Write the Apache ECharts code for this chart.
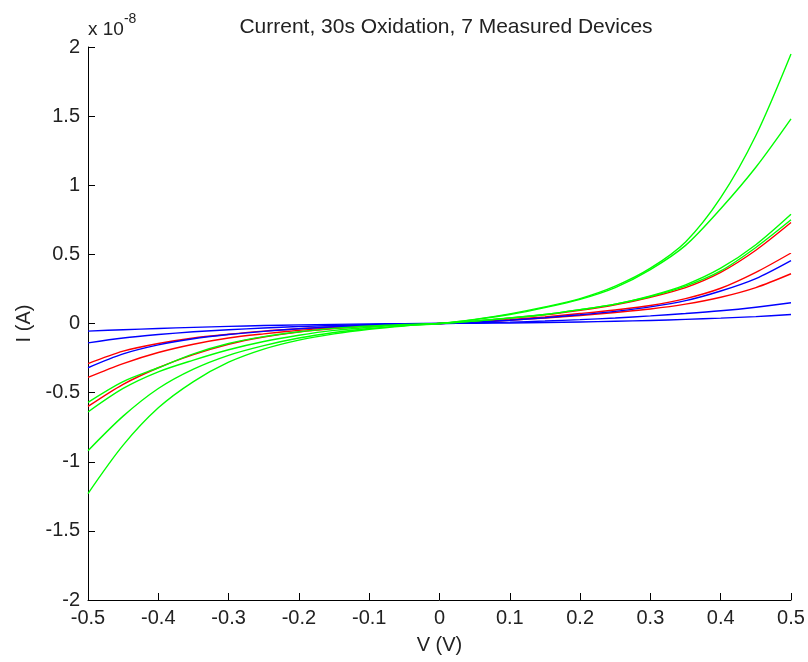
<!DOCTYPE html>
<html>
<head>
<meta charset="utf-8">
<script src="https://cdn.jsdelivr.net/npm/echarts@6/dist/echarts.min.js"></script>
<style>
html,body{margin:0;padding:0;background:#fff;}
#chart{width:808px;height:662px;}
</style>
</head>
<body>
<div id="chart"></div>
<script>
// Voltage sweep (V)
var voltages = [-0.5,-0.45,-0.4,-0.35,-0.3,-0.25,-0.2,-0.15,-0.1,-0.05,0,0.05,0.1,0.15,0.2,0.25,0.3,0.35,0.4,0.45,0.5];
// Currents in units of 1e-8 A
var redE   = [-0.60,-0.44,-0.32,-0.225,-0.15,-0.098,-0.062,-0.037,-0.019,-0.007,0,0.017,0.038,0.062,0.095,0.135,0.19,0.26,0.37,0.53,0.73];
var redF   = [-0.29,-0.20,-0.145,-0.105,-0.078,-0.055,-0.038,-0.024,-0.013,-0.005,0,0.012,0.028,0.048,0.072,0.098,0.13,0.18,0.255,0.37,0.51];
var redG   = [-0.39,-0.29,-0.21,-0.15,-0.105,-0.075,-0.05,-0.03,-0.016,-0.006,0,0.01,0.024,0.04,0.058,0.08,0.105,0.14,0.19,0.26,0.36];
var blueH  = [-0.32,-0.22,-0.155,-0.11,-0.08,-0.057,-0.038,-0.024,-0.013,-0.005,0,0.01,0.024,0.042,0.063,0.088,0.12,0.165,0.235,0.325,0.455];
var blueI  = [-0.14,-0.105,-0.08,-0.06,-0.045,-0.033,-0.022,-0.014,-0.008,-0.003,0,0.004,0.01,0.018,0.028,0.04,0.055,0.072,0.092,0.118,0.15];
var blueJ  = [-0.055,-0.045,-0.036,-0.028,-0.021,-0.015,-0.01,-0.006,-0.003,-0.001,0,0.002,0.004,0.007,0.011,0.016,0.022,0.03,0.039,0.05,0.065];
var greenA = [-1.23,-0.88,-0.61,-0.42,-0.28,-0.185,-0.12,-0.075,-0.042,-0.018,0,0.03,0.07,0.12,0.18,0.27,0.40,0.59,0.91,1.36,1.95];
var greenB = [-0.92,-0.67,-0.47,-0.33,-0.23,-0.16,-0.105,-0.065,-0.036,-0.015,0,0.028,0.065,0.115,0.175,0.26,0.39,0.565,0.83,1.13,1.48];
var greenC = [-0.64,-0.47,-0.35,-0.265,-0.19,-0.13,-0.085,-0.05,-0.027,-0.01,0,0.018,0.04,0.065,0.10,0.14,0.20,0.28,0.40,0.57,0.79];
var greenD = [-0.57,-0.42,-0.32,-0.22,-0.145,-0.095,-0.06,-0.035,-0.018,-0.007,0,0.017,0.04,0.065,0.10,0.14,0.195,0.27,0.38,0.55,0.75];
var xTicks = ['-0.5','-0.4','-0.3','-0.2','-0.1','0','0.1','0.2','0.3','0.4','0.5'];
var yTicks = ['-2','-1.5','-1','-0.5','0','0.5','1','1.5','2'];

var curves = [
  {name:'R1', color:'#ff0000', vals:redE},
  {name:'R2', color:'#ff0000', vals:redF},
  {name:'R3', color:'#ff0000', vals:redG},
  {name:'B1', color:'#0000ff', vals:blueH},
  {name:'B2', color:'#0000ff', vals:blueI},
  {name:'B3', color:'#0000ff', vals:blueJ},
  {name:'G1', color:'#00ff00', vals:greenA},
  {name:'G2', color:'#00ff00', vals:greenB},
  {name:'G3', color:'#00ff00', vals:greenC},
  {name:'G4', color:'#00ff00', vals:greenD}
];

var font = 'Arial, "Liberation Sans", sans-serif';
var txt = '#222';

function fmtTick(list, min, step){
  return function(v){
    var i = Math.round((v - min) / step);
    return list[i] !== undefined ? list[i] : '';
  };
}

var chart = echarts.init(document.getElementById('chart'));
chart.setOption({
  backgroundColor:'#fff',
  animation:false,
  title:{
    text:'Current, 30s Oxidation, 7 Measured Devices',
    left:441, top:12, textAlign:'center',
    textStyle:{fontFamily:font, fontSize:21, fontWeight:'normal', color:txt}
  },
  graphic:[{
    type:'text', left:88, top:12,
    style:{
      text:'{a|x 10}{b|-8}',
      rich:{
        a:{fontFamily:font, fontSize:19, fill:txt, padding:[8,0,0,0]},
        b:{fontFamily:font, fontSize:14, fill:txt, verticalAlign:'top'}
      }
    }
  }],
  grid:{left:88, right:17, top:47, bottom:62, containLabel:false},
  xAxis:{
    type:'value', min:-0.5, max:0.5, interval:0.1,
    name:'V (V)', nameLocation:'middle', nameGap:35,
    nameTextStyle:{fontFamily:font, fontSize:20, color:txt},
    axisLine:{show:true, onZero:false, lineStyle:{color:'#000', width:1}},
    axisTick:{show:true, inside:true, length:7, lineStyle:{color:'#000'}},
    axisLabel:{fontFamily:font, fontSize:20, color:txt, margin:8, formatter:fmtTick(xTicks,-0.5,0.1)},
    splitLine:{show:false}
  },
  yAxis:{
    type:'value', min:-2, max:2, interval:0.5,
    name:'I (A)', nameLocation:'middle', nameGap:52, nameRotate:90,
    nameTextStyle:{fontFamily:font, fontSize:20, color:txt},
    axisLine:{show:true, onZero:false, lineStyle:{color:'#000', width:1}},
    axisTick:{show:true, inside:true, length:7, lineStyle:{color:'#000'}},
    axisLabel:{fontFamily:font, fontSize:20, color:txt, margin:8, formatter:fmtTick(yTicks,-2,0.5)},
    splitLine:{show:false}
  },
  series:curves.map(function(c){
    return {
      name:c.name, type:'line', showSymbol:false, smooth:0.3,
      lineStyle:{color:c.color, width:1.4},
      itemStyle:{color:c.color},
      data:voltages.map(function(v,i){return [v, c.vals[i]];})
    };
  })
});
</script>
</body>
</html>
